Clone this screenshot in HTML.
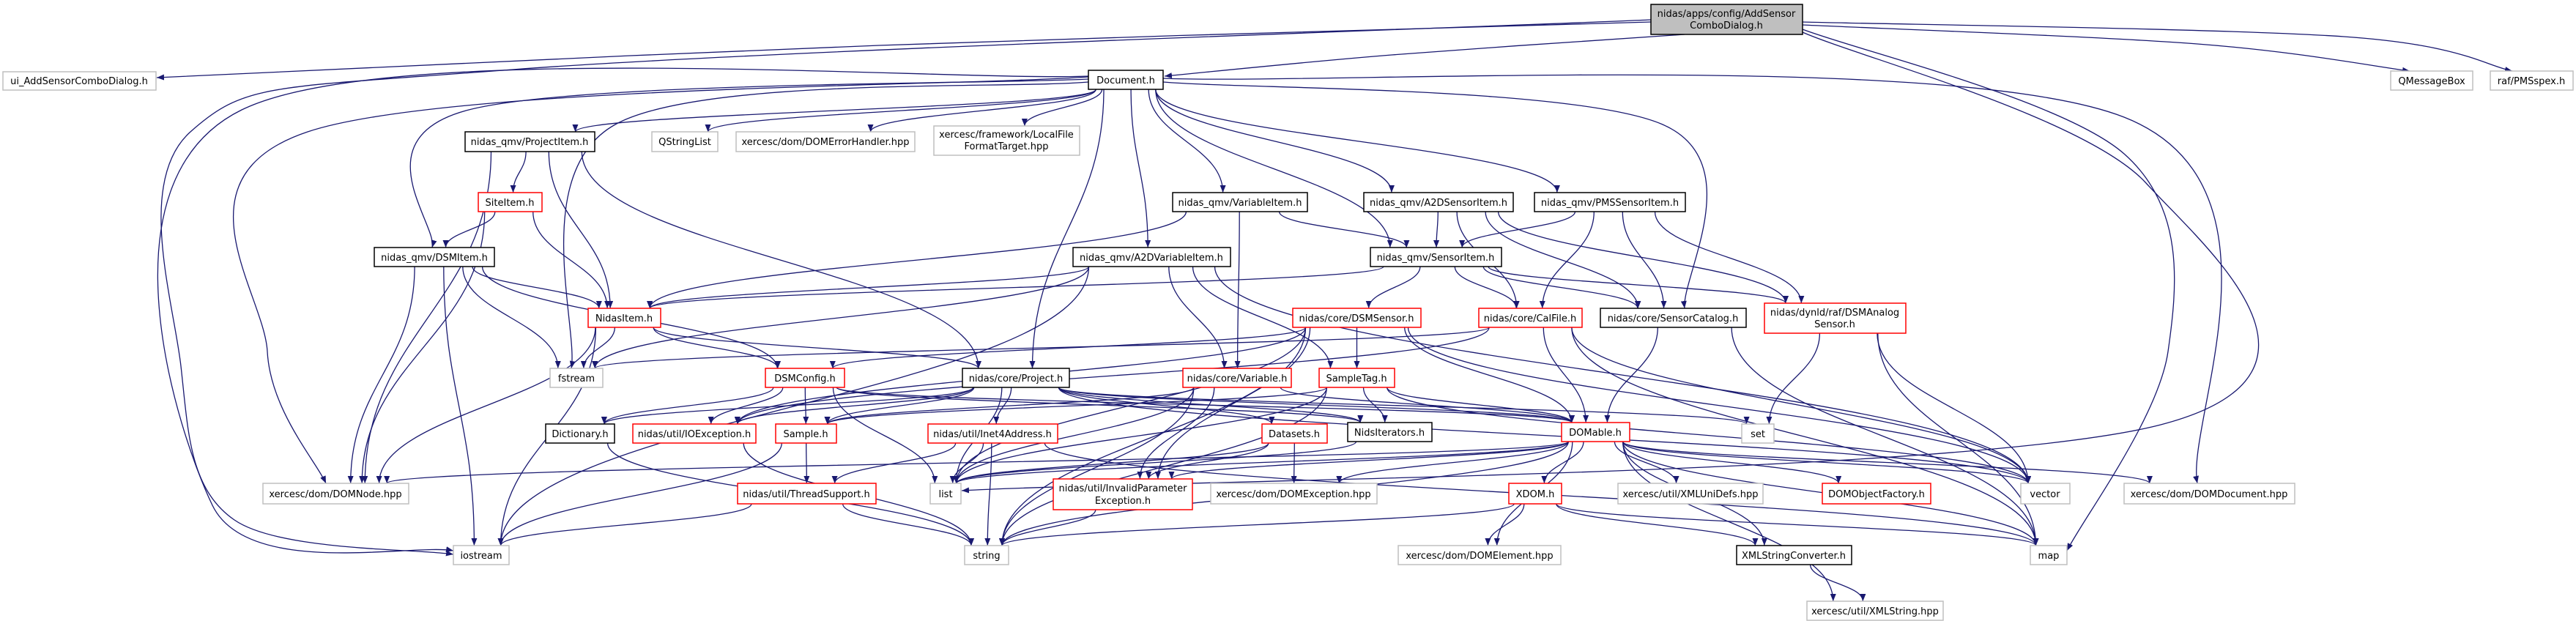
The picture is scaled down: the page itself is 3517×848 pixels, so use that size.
<!DOCTYPE html>
<html><head><meta charset="utf-8"><style>
html,body{margin:0;padding:0;background:#fff;width:3517px;height:848px;overflow:hidden}
svg{display:block}
text{font-family:"DejaVu Sans","Liberation Sans",sans-serif;font-size:13px;text-anchor:middle;fill:#000}
.g{fill:#fff;stroke:#bfbfbf;stroke-width:1.5}
.b{fill:#fff;stroke:#000;stroke-width:1.5}
.r{fill:#fff;stroke:#ff0000;stroke-width:1.5}
.root{fill:#bfbfbf;stroke:#000;stroke-width:1.5}
path.e{fill:none;stroke:#191970;stroke-width:1.3}
</style></head><body>
<svg id="s" width="3517" height="848" viewBox="0 0 3517 848" xmlns="http://www.w3.org/2000/svg">
<defs><marker id="a" viewBox="0 0 10 8" refX="10" refY="4" markerWidth="10" markerHeight="8" markerUnits="userSpaceOnUse" orient="auto"><path d="M0,0 L10,4 L0,8 z" fill="#191970"/></marker></defs>
<g id="edges"></g>
<g id="nodes">
<rect id="root" class="root" x="2254" y="6" width="207" height="41"/><text x="2357" y="23">nidas/apps/config/AddSensor</text><text x="2357" y="39">ComboDialog.h</text>
<rect id="ui" class="g" x="4" y="98" width="209" height="25"/><text x="108" y="115">ui_AddSensorComboDialog.h</text>
<rect id="doc" class="b" x="1486" y="96" width="102" height="26"/><text x="1537" y="114">Document.h</text>
<rect id="qmb" class="g" x="3264" y="97" width="112" height="26"/><text x="3320" y="115">QMessageBox</text>
<rect id="pms" class="g" x="3400" y="97" width="113" height="26"/><text x="3456" y="115">raf/PMSspex.h</text>
<rect id="pi" class="b" x="635" y="180" width="177" height="27"/><text x="723" y="198">nidas_qmv/ProjectItem.h</text>
<rect id="qsl" class="g" x="890" y="180" width="90" height="27"/><text x="935" y="198">QStringList</text>
<rect id="deh" class="g" x="1005" y="180" width="244" height="27"/><text x="1127" y="198">xercesc/dom/DOMErrorHandler.hpp</text>
<rect id="lff" class="g" x="1275" y="172" width="199" height="40"/><text x="1374" y="188">xercesc/framework/LocalFile</text><text x="1374" y="204">FormatTarget.hpp</text>
<rect id="site" class="r" x="653" y="263" width="87" height="26"/><text x="696" y="281">SiteItem.h</text>
<rect id="vi" class="b" x="1601" y="263" width="184" height="26"/><text x="1693" y="281">nidas_qmv/VariableItem.h</text>
<rect id="a2ds" class="b" x="1862" y="263" width="204" height="26"/><text x="1964" y="281">nidas_qmv/A2DSensorItem.h</text>
<rect id="pmss" class="b" x="2095" y="263" width="206" height="26"/><text x="2198" y="281">nidas_qmv/PMSSensorItem.h</text>
<rect id="dsmi" class="b" x="511" y="338" width="164" height="26"/><text x="593" y="356">nidas_qmv/DSMItem.h</text>
<rect id="a2dv" class="b" x="1465" y="338" width="215" height="26"/><text x="1572" y="356">nidas_qmv/A2DVariableItem.h</text>
<rect id="si" class="b" x="1871" y="338" width="179" height="26"/><text x="1960" y="356">nidas_qmv/SensorItem.h</text>
<rect id="ni" class="r" x="803" y="421" width="99" height="26"/><text x="852" y="439">NidasItem.h</text>
<rect id="dsms" class="r" x="1765" y="421" width="175" height="26"/><text x="1852" y="439">nidas/core/DSMSensor.h</text>
<rect id="cal" class="r" x="2019" y="421" width="141" height="26"/><text x="2089" y="439">nidas/core/CalFile.h</text>
<rect id="cat" class="b" x="2185" y="421" width="199" height="26"/><text x="2284" y="439">nidas/core/SensorCatalog.h</text>
<rect id="das" class="r" x="2409" y="414" width="193" height="41"/><text x="2505" y="431">nidas/dynld/raf/DSMAnalog</text><text x="2505" y="447">Sensor.h</text>
<rect id="fst" class="g" x="751" y="503" width="72" height="26"/><text x="787" y="521">fstream</text>
<rect id="dcfg" class="r" x="1045" y="503" width="108" height="26"/><text x="1099" y="521">DSMConfig.h</text>
<rect id="proj" class="b" x="1314" y="503" width="146" height="26"/><text x="1387" y="521">nidas/core/Project.h</text>
<rect id="var" class="r" x="1615" y="503" width="148" height="26"/><text x="1689" y="521">nidas/core/Variable.h</text>
<rect id="stag" class="r" x="1801" y="503" width="103" height="26"/><text x="1852" y="521">SampleTag.h</text>
<rect id="dict" class="b" x="745" y="579" width="94" height="26"/><text x="792" y="597">Dictionary.h</text>
<rect id="ioe" class="r" x="864" y="579" width="168" height="26"/><text x="948" y="597">nidas/util/IOException.h</text>
<rect id="samp" class="r" x="1059" y="579" width="83" height="26"/><text x="1100" y="597">Sample.h</text>
<rect id="inet" class="r" x="1267" y="579" width="177" height="26"/><text x="1355" y="597">nidas/util/Inet4Address.h</text>
<rect id="ds" class="r" x="1723" y="579" width="89" height="26"/><text x="1767" y="597">Datasets.h</text>
<rect id="nit" class="b" x="1840" y="577" width="115" height="26"/><text x="1897" y="595">NidsIterators.h</text>
<rect id="dom" class="r" x="2132" y="577" width="93" height="26"/><text x="2178" y="595">DOMable.h</text>
<rect id="set" class="g" x="2378" y="579" width="44" height="26"/><text x="2400" y="597">set</text>
<rect id="dnode" class="g" x="359" y="660" width="199" height="28"/><text x="458" y="679">xercesc/dom/DOMNode.hpp</text>
<rect id="ts" class="r" x="1007" y="660" width="189" height="28"/><text x="1101" y="679">nidas/util/ThreadSupport.h</text>
<rect id="list" class="g" x="1270" y="660" width="42" height="28"/><text x="1291" y="679">list</text>
<rect id="ipe" class="r" x="1438" y="654" width="190" height="42"/><text x="1533" y="671">nidas/util/InvalidParameter</text><text x="1533" y="688">Exception.h</text>
<rect id="dexc" class="g" x="1653" y="660" width="227" height="28"/><text x="1766" y="679">xercesc/dom/DOMException.hpp</text>
<rect id="xdom" class="r" x="2060" y="660" width="72" height="28"/><text x="2096" y="679">XDOM.h</text>
<rect id="xud" class="g" x="2209" y="660" width="198" height="28"/><text x="2308" y="679">xercesc/util/XMLUniDefs.hpp</text>
<rect id="dof" class="r" x="2488" y="660" width="148" height="28"/><text x="2562" y="679">DOMObjectFactory.h</text>
<rect id="vec" class="g" x="2759" y="660" width="67" height="28"/><text x="2792" y="679">vector</text>
<rect id="ddoc" class="g" x="2900" y="660" width="233" height="28"/><text x="3016" y="679">xercesc/dom/DOMDocument.hpp</text>
<rect id="ios" class="g" x="619" y="745" width="76" height="26"/><text x="657" y="763">iostream</text>
<rect id="str" class="g" x="1317" y="745" width="60" height="26"/><text x="1347" y="763">string</text>
<rect id="delem" class="g" x="1909" y="745" width="222" height="26"/><text x="2020" y="763">xercesc/dom/DOMElement.hpp</text>
<rect id="xsc" class="b" x="2371" y="745" width="157" height="26"/><text x="2449" y="763">XMLStringConverter.h</text>
<rect id="map" class="g" x="2772" y="745" width="50" height="26"/><text x="2797" y="763">map</text>
<rect id="xstr" class="g" x="2467" y="821" width="186" height="26"/><text x="2560" y="839">xercesc/util/XMLString.hpp</text>
</g>
</svg>
<script>
(function(){
var R={};document.querySelectorAll('#nodes rect').forEach(function(r){R[r.id]={x:+r.getAttribute('x'),y:+r.getAttribute('y'),w:+r.getAttribute('width'),h:+r.getAttribute('height')};});
var E=[
['doc','pi'],['doc','qsl'],['doc','deh'],['doc','lff'],['doc','vi'],['doc','a2ds'],['doc','pmss'],['doc','a2dv'],['doc','si'],['doc','proj'],
['pi','site'],['pi','ni'],['pi','proj'],['pi','dnode'],
['site','dsmi'],['site','ni'],['site','dnode'],
['dsmi','ni'],['dsmi','fst'],['dsmi','ios'],['dsmi','dnode'],['dsmi','dcfg'],
['vi','ni'],['vi','si'],['vi','var'],
['a2ds','si'],['a2ds','cal'],['a2ds','cat'],['a2ds','das'],
['pmss','si'],['pmss','cal'],['pmss','cat'],['pmss','das'],
['a2dv','ni'],['a2dv','fst'],['a2dv','var'],['a2dv','stag'],['a2dv','ios'],['a2dv','vec'],
['si','ni'],['si','dsms'],['si','cal'],['si','cat'],['si','das'],
['ni','fst'],['ni','dcfg'],['ni','proj'],['ni','dnode'],['ni','ios'],
['dsms','ioe'],['dsms','dcfg'],['dsms','stag'],['dsms','dom'],['dsms','list'],['dsms','str'],['dsms','vec'],['dsms','ipe'],
['cal','fst'],['cal','dom'],['cal','vec'],['cal','map'],['cal','ioe'],
['cat','dom'],['cat','map'],
['das','set'],['das','vec'],['das','map'],
['dcfg','dict'],['dcfg','ioe'],['dcfg','samp'],['dcfg','list'],['dcfg','dom'],['dcfg','nit'],
['proj','dict'],['proj','ioe'],['proj','samp'],['proj','inet'],['proj','ds'],['proj','nit'],['proj','dom'],['proj','set'],['proj','list'],['proj','vec'],
['var','list'],['var','str'],['var','dom'],['var','ipe'],['var','samp'],
['stag','samp'],['stag','list'],['stag','dom'],['stag','nit'],['stag','vec'],['stag','str'],
['dict','str'],['ioe','str'],['samp','ts'],['samp','ios'],
['inet','ts'],['inet','list'],['inet','str'],['inet','map'],
['ds','list'],['ds','dexc'],['ds','ipe'],
['nit','list'],
['dom','dnode'],['dom','list'],['dom','ipe'],['dom','dexc'],['dom','delem'],['dom','xdom'],['dom','xud'],['dom','dof'],['dom','vec'],['dom','ddoc'],['dom','xsc'],['dom','xstr'],['dom','str'],['dom','map'],
['ts','ios'],['ts','str'],['ipe','str'],
['xdom','str'],['xdom','delem'],['xdom','xsc'],['xdom','map'],['xsc','xstr']
];
var C=[
[[2254,30],[1200,62],[214,106]],
[[2300,47],[1900,75],[1590,104]],
[[2461,34],[3000,60],[3290,97]],
[[2461,30],[3200,50],[3430,97]],
[[2461,40],[2900,210],[2960,480],[2822,752]],
[[2254,27],[700,95],[260,180],[247,500],[320,710],[619,757]],
[[2461,44],[2930,250],[2950,580],[1313,670]],
[[1486,108],[640,150],[590,338]],
[[1486,112],[840,170],[780,503]],
[[1486,105],[420,180],[365,480],[445,660]],
[[1486,104],[330,150],[290,690],[619,752]],
[[1588,112],[2270,170],[2300,421]],
[[1588,107],[2900,160],[3000,660]]
];
var g=document.getElementById('edges'),o='';
function pth(d){o+='<path class="e" d="'+d+'" marker-end="url(#a)"/>';}
function cl(v,a,b){return Math.max(a,Math.min(b,v));}
E.forEach(function(e){var s=R[e[0]],t=R[e[1]];
 var scx=s.x+s.w/2,tcx=t.x+t.w/2;
 var sx=scx+cl((tcx-scx)*0.2,-s.w*0.4,s.w*0.4),sy=s.y+s.h;
 var tx=tcx+cl((scx-tcx)*0.15,-t.w*0.35,t.w*0.35),ty=t.y;
 var k=(ty-sy)*0.45;
 pth('M'+sx+','+sy+' C'+sx+','+(sy+k)+' '+tx+','+(ty-k)+' '+tx+','+ty);
});
C.forEach(function(p){
 var d='M'+p[0][0]+','+p[0][1];
 for(var i=0;i<p.length-1;i++){var p0=p[i-1]||p[i],p1=p[i],p2=p[i+1],p3=p[i+2]||p2;
  d+=' C'+(p1[0]+(p2[0]-p0[0])/6)+','+(p1[1]+(p2[1]-p0[1])/6)+' '+(p2[0]-(p3[0]-p1[0])/6)+','+(p2[1]-(p3[1]-p1[1])/6)+' '+p2[0]+','+p2[1];}
 pth(d);
});
g.innerHTML=o;
})();
</script>
</body></html>
